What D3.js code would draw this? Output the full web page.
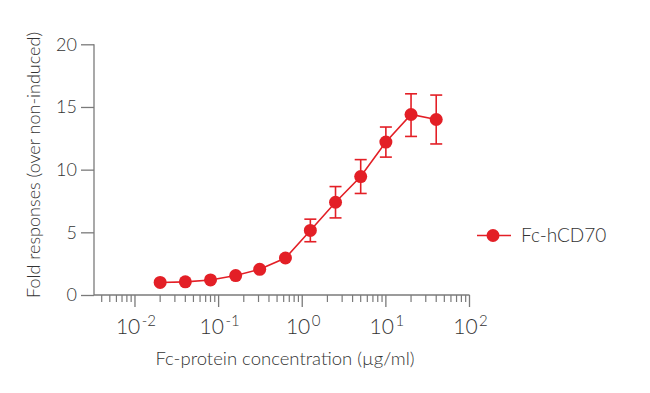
<!DOCTYPE html>
<html>
<head>
<meta charset="utf-8">
<script src="https://cdn.jsdelivr.net/npm/d3@7"></script>
<style>
  body { margin: 0; background: #fff; }
  svg { font-family: Lato, "Open Sans", sans-serif; font-weight: 300; }
</style>
</head>
<body>
<svg id="chart" width="650" height="393"></svg>
<script>
// concentrations (ug/ml), 2-fold dilution series
const conc = [0.02, 0.04, 0.08, 0.16, 0.31, 0.63, 1.25, 2.5, 5, 10, 20, 40];
const fold = [1.0, 1.05, 1.2, 1.55, 2.05, 2.95, 5.15, 7.4, 9.45, 12.2, 14.4, 14.0];
const errUp = [0, 0, 0, 0, 0, 0, 0.9, 1.25, 1.35, 1.2, 1.65, 1.95];
const errDn = [0, 0, 0, 0, 0, 0, 0.9, 1.25, 1.35, 1.2, 1.75, 1.95];
const yTicks = [0, 5, 10, 15, 20];
const xDecades = [-2, -1, 0, 1, 2];
const seriesName = "Fc-hCD70";

const red = "#e31f26";
const axisColor = "#7a7a7a";
const textColor = "#333";

const svg = d3.select("#chart");

const x = d3.scaleLog().domain([Math.pow(10, -2.49), 100]).range([94, 469.5]);
const y = d3.scaleLinear().domain([0, 20]).range([295, 44.3]);

// y axis
const yAxis = svg.append("g").attr("transform", "translate(94,0)")
  .call(d3.axisLeft(y).tickValues(yTicks).tickSize(13).tickPadding(4));
yAxis.select(".domain").attr("d", `M0,${y(20)}V${y(0)}`);
yAxis.selectAll("path, line").attr("stroke", axisColor).attr("stroke-width", 1.3);
yAxis.selectAll("text").attr("fill", textColor).attr("font-size", "18px")
  .attr("font-family", "Lato, sans-serif").attr("font-weight", 300);

// x axis: major ticks at decades, minor at 2..9
const minor = [];
for (let d = -3; d < 2; d++) {
  for (let k = 2; k <= 9; k++) {
    const v = k * Math.pow(10, d);
    if (v >= x.domain()[0] && v <= 100) minor.push(v);
  }
}
const xg = svg.append("g").attr("transform", "translate(0,295)");
xg.append("line").attr("x1", 94).attr("x2", 469.5)
  .attr("stroke", axisColor).attr("stroke-width", 1.3);
xg.selectAll("line.minor").data(minor).enter().append("line")
  .attr("class", "minor")
  .attr("x1", d => x(d)).attr("x2", d => x(d))
  .attr("y1", 0).attr("y2", 7)
  .attr("stroke", axisColor).attr("stroke-width", 1.2);
xg.selectAll("line.major").data(xDecades).enter().append("line")
  .attr("class", "major")
  .attr("x1", d => x(Math.pow(10, d))).attr("x2", d => x(Math.pow(10, d)))
  .attr("y1", 0).attr("y2", 12)
  .attr("stroke", axisColor).attr("stroke-width", 1.3);
const lbl = xg.selectAll("text.tl").data(xDecades).enter().append("text")
  .attr("class", "tl")
  .attr("x", d => x(Math.pow(10, d)) + 1)
  .attr("y", 38.5)
  .attr("text-anchor", "middle")
  .attr("fill", textColor)
  .attr("font-size", "21px");
lbl.append("tspan").text("10");
lbl.append("tspan").attr("dx", 1.5).attr("dy", -8).attr("font-size", "15px").text(d => String(d));

// axis titles
svg.append("text")
  .attr("x", 285).attr("y", 365)
  .attr("text-anchor", "middle").attr("fill", textColor).attr("font-size", "18.5px")
  .text("Fc-protein concentration (µg/ml)");
svg.append("text")
  .attr("transform", "translate(40,165) rotate(-90)")
  .attr("text-anchor", "middle").attr("fill", textColor).attr("font-size", "18px")
  .text("Fold responses (over non-induced)");

// data
const data = conc.map((c, i) => ({ c, v: fold[i], up: errUp[i], dn: errDn[i] }));

svg.append("path").datum(data)
  .attr("fill", "none").attr("stroke", red).attr("stroke-width", 1.6)
  .attr("d", d3.line().x(d => x(d.c)).y(d => y(d.v)));

const eb = svg.append("g").attr("stroke", red).attr("stroke-width", 1.6);
data.filter(d => d.up > 0).forEach(d => {
  const cx = x(d.c);
  eb.append("line").attr("x1", cx).attr("x2", cx).attr("y1", y(d.v + d.up)).attr("y2", y(d.v - d.dn));
  eb.append("line").attr("x1", cx - 6).attr("x2", cx + 6).attr("y1", y(d.v + d.up)).attr("y2", y(d.v + d.up));
  eb.append("line").attr("x1", cx - 6).attr("x2", cx + 6).attr("y1", y(d.v - d.dn)).attr("y2", y(d.v - d.dn));
});

svg.append("g").selectAll("circle").data(data).enter().append("circle")
  .attr("cx", d => x(d.c)).attr("cy", d => y(d.v)).attr("r", 6.5)
  .attr("fill", red);

// legend
const lg = svg.append("g").attr("transform", "translate(477,235.5)");
lg.append("line").attr("x1", 0).attr("x2", 34).attr("stroke", red).attr("stroke-width", 1.6);
lg.append("circle").attr("cx", 16).attr("cy", 0).attr("r", 6.5).attr("fill", red);
lg.append("text").attr("x", 44).attr("y", 6.5).attr("fill", textColor).attr("font-size", "19px")
  .text(seriesName);
</script>
</body>
</html>
